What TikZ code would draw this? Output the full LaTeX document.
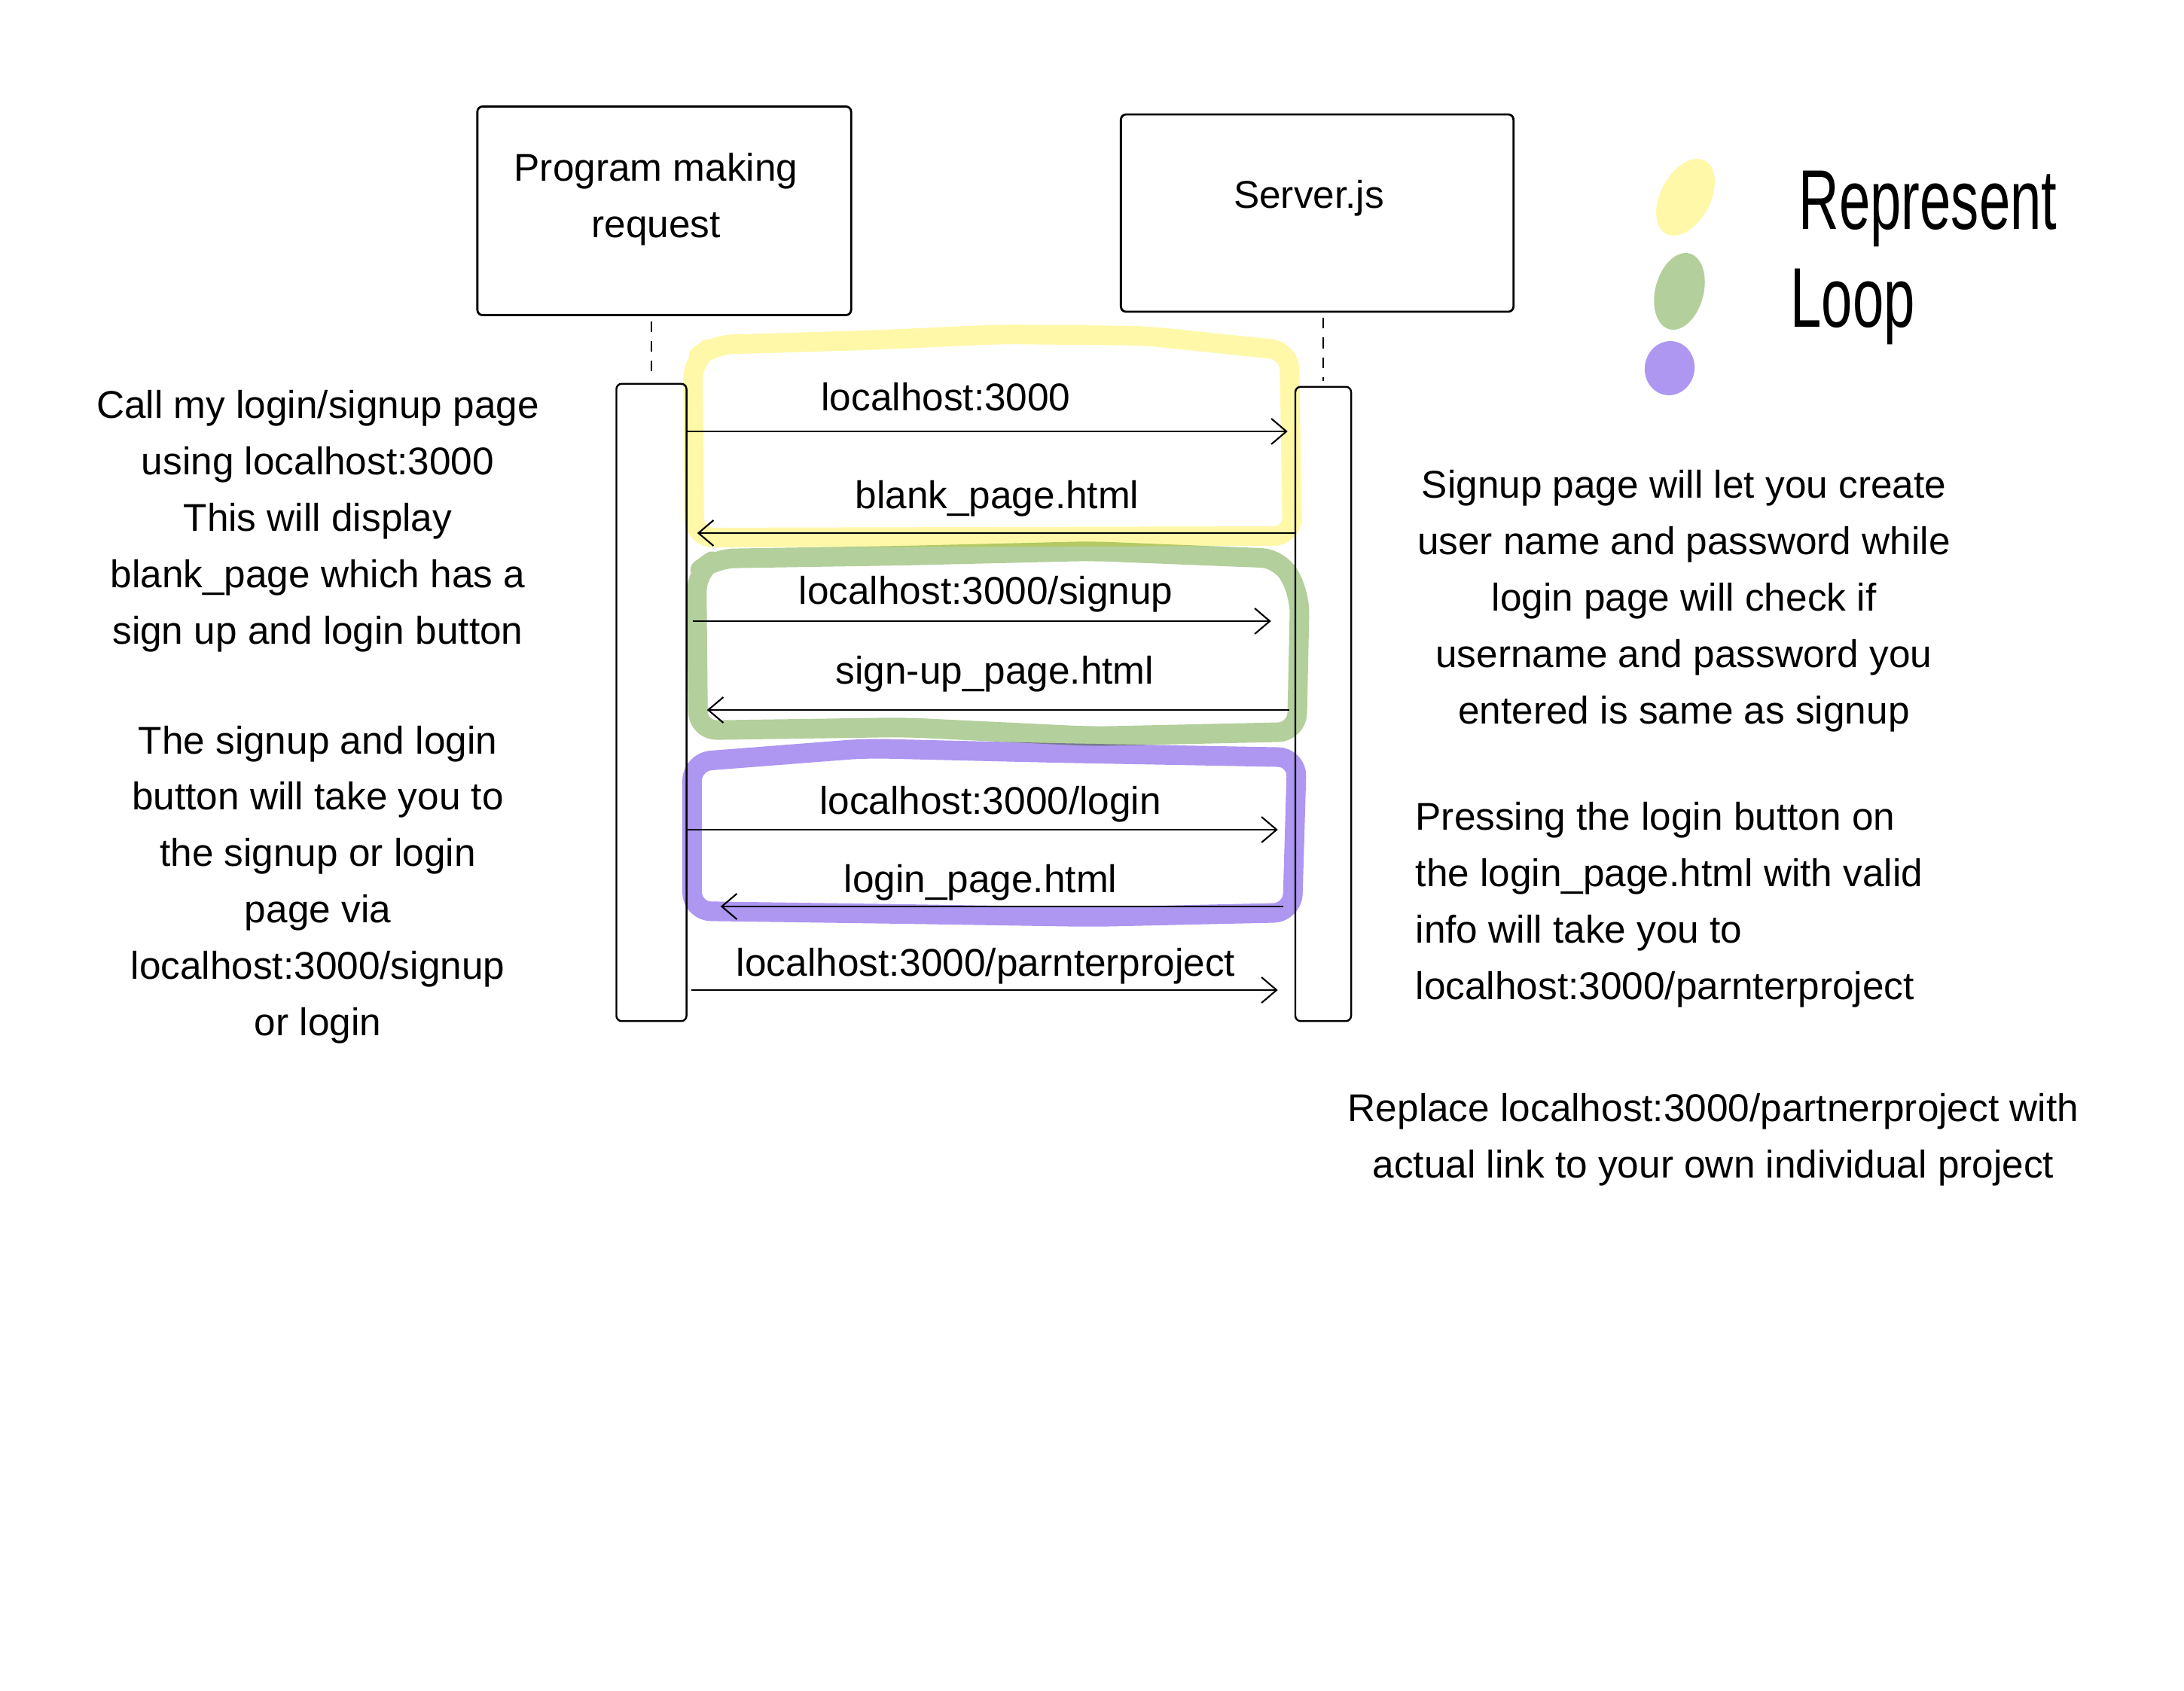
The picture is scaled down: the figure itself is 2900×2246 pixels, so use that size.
\documentclass[tikz,border=0pt]{standalone}
\usepackage{fontspec}
\setmainfont{Liberation Sans}
\usepackage{xcolor}
\usetikzlibrary{arrows.meta, positioning}
\definecolor{loopyellow}{HTML}{FFF8A8}
\definecolor{loopgreen}{HTML}{B3CF9B}
\definecolor{looppurple}{HTML}{AD97F0}
\tikzstyle{actor} = [rectangle, rounded corners=2pt, draw=black, line width=0.8pt, minimum width=4.96cm, minimum height=2.77cm]
\tikzstyle{activation} = [rectangle, rounded corners=2pt, draw=black, line width=0.7pt]
\tikzstyle{msg} = [line width=0.6pt, -{Straight Barb[length=0.2cm,width=0.34cm]}]
\tikzstyle{msglabel} = [text height=0.72em, text depth=0.2em]
\tikzstyle{lifeline} = [line width=0.5pt, dash pattern=on 0.14cm off 0.12cm]
\tikzstyle{note} = [align=center]
\tikzstyle{loopmark} = [line width=0.26cm, rounded corners=0.25cm, line cap=round, line join=round]
\tikzstyle{hand} = [font=\fontsize{32}{40}\selectfont, xscale=0.66, inner sep=0pt, text height=0.72em, text depth=0pt]

\begin{document}
\begin{tikzpicture}[x=0.01cm, y=-0.01cm, font=\fontsize{14.6}{21.3}\selectfont]
        \useasboundingbox (0,0) rectangle (2900,2246);

        % marker loops
        \begin{scope}[blend mode=multiply]
        \draw[loopmark, loopyellow] (922,714) -- (920,478) -- (948,458) -- (1150,452) -- (1330,444) -- (1520,446) -- (1712,466) -- (1716,712) -- cycle;
        \draw[loopmark, loopgreen] (927,970) -- (925,760) -- (950,742) -- (1200,738) -- (1450,732) -- (1700,742) -- (1726,790) -- (1722,972) -- (1450,978) -- (1200,966) -- cycle;
        \draw[loopmark, looppurple] (919,1210) -- (919,1012) -- (1150,994) -- (1400,1000) -- (1722,1006) -- (1716,1212) -- (1450,1218) -- (1200,1214) -- cycle;
        \end{scope}

        \node (prog) [actor] at (882,280) {};
        \node (progtxt) [note] at (871,265) {Program making\\request};
        \node (server) [actor, minimum width=5.21cm, minimum height=2.62cm] at (1749,283) {};
        \node (servertxt) at (1738,263) {Server.js};

        \node (actL) [activation, minimum width=0.93cm, minimum height=8.46cm] at (865,933) {};
        \node (actR) [activation, minimum width=0.74cm, minimum height=8.42cm] at (1757,935) {};

        \draw[lifeline] ([yshift=-0.07cm]prog.south -| actL.north) -- ([yshift=0.07cm]actL.north);
        \draw[lifeline] ([yshift=-0.07cm]server.south -| actR.north) -- ([yshift=0.07cm]actR.north);

        % messages
        \coordinate (m1) at (0,573);
        \coordinate (m2) at (0,708);
        \coordinate (m3) at (0,825);
        \coordinate (m4) at (0,943);
        \coordinate (m5) at (0,1102);
        \coordinate (m6) at (0,1204);
        \coordinate (m7) at (0,1315);

        \node (lbl1) [msglabel] at (1256,536) {localhost:3000};
        \node (lbl2) [msglabel] at (1324,666) {blank\_page.html};
        \node (lbl3) [msglabel] at (1309,793) {localhost:3000/signup};
        \node (lbl4) [msglabel] at (1321,899) {sign-up\_page.html};
        \node (lbl5) [msglabel] at (1315,1072) {localhost:3000/login};
        \node (lbl6) [msglabel] at (1302,1176) {login\_page.html};
        \node (lbl7) [msglabel] at (1309,1287) {localhost:3000/parnterproject};

        \draw[msg, shorten >=0.09cm] (actL.east |- m1) -- (actR.west |- m1);
        \draw[msg, shorten >=0.13cm] (actR.west |- m2) -- (actL.east |- m2);
        \draw[msg, shorten <=0.07cm, shorten >=0.31cm] (actL.east |- m3) -- (actR.west |- m3);
        \draw[msg, shorten <=0.07cm, shorten >=0.26cm] (actR.west |- m4) -- (actL.east |- m4);
        \draw[msg, shorten >=0.22cm] (actL.east |- m5) -- (actR.west |- m5);
        \draw[msg, shorten <=0.15cm, shorten >=0.44cm] (actR.west |- m6) -- (actL.east |- m6);
        \draw[msg, shorten <=0.05cm, shorten >=0.22cm] (actL.east |- m7) -- (actR.west |- m7);

        % notes
        \node (callnote) [note] at (422,692) {Call my login/signup page\\using localhost:3000\\This will display\\blank\_page which has a\\sign up and login button};
        \node (buttonnote) [note] at (422,1175) {The signup and login\\button will take you to\\the signup or login\\page via\\localhost:3000/signup\\or login};
        \node (signupnote) [note] at (2236,798) {Signup page will let you create\\user name and password while\\login page will check if\\username and password you\\entered is same as signup};
        \node (loginnote) [align=left, anchor=west, inner xsep=0pt] at (1879,1202) {Pressing the login button on\\the login\_page.html with valid\\info will take you to\\localhost:3000/parnterproject};
        \node (replacenote) [note] at (2275,1514) {Replace localhost:3000/partnerproject with\\actual link to your own individual project};

        % legend
        \fill[loopyellow] (2238,262) ellipse [x radius=0.55cm, y radius=0.33cm, rotate=62];
        \fill[loopgreen] (2230,387) ellipse [x radius=0.52cm, y radius=0.32cm, rotate=75];
        \fill[looppurple] (2217,489) ellipse [x radius=0.36cm, y radius=0.33cm, rotate=80];
        \node (represent) [hand] at (2560,292) {Represent};
        \node (loopword) [hand, anchor=west] at (2377,422) {Loop};
\end{tikzpicture}
\end{document}
